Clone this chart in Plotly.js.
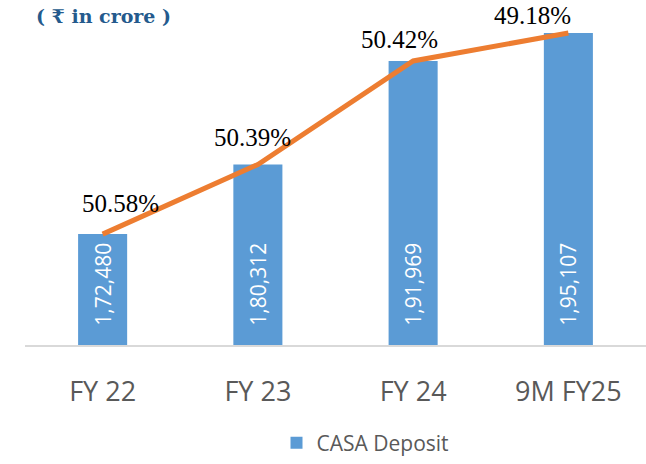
<!DOCTYPE html>
<html>
<head>
<meta charset="utf-8">
<script src="https://cdn.plot.ly/plotly-3.0.1.min.js"></script>
<style>html,body{margin:0;padding:0;background:#fff;}#chart{width:646px;height:464px;}</style>
</head>
<body>
<div id="chart"></div>
<script>
// ---- data ----
const categories = ["FY 22", "FY 23", "FY 24", "9M FY25"];
const casaDeposit = [172480, 180312, 191969, 195107];
const casaRatioLabels = ["50.58%", "50.39%", "50.42%", "49.18%"];
const seriesName = "CASA Deposit";
const titleText = "( ₹ in crore )";

// ---- styling ----
const Y_MIN = 160000, Y_MAX = 197700;
const labelShift = [[18, 31], [-5, 27], [-14, 21], [-36, 18]];

function indianFormat(n) {
  const s = String(Math.round(n));
  if (s.length <= 3) return s;
  const last3 = s.slice(-3);
  let rest = s.slice(0, -3);
  const parts = [];
  while (rest.length > 2) { parts.unshift(rest.slice(-2)); rest = rest.slice(0, -2); }
  if (rest.length) parts.unshift(rest);
  return parts.join(",") + "," + last3;
}
const pad = "\u00a0\u00a0\u00a0";

const bars = {
  type: "bar",
  name: seriesName,
  x: categories,
  y: casaDeposit.map(v => v - Y_MIN),
  base: Y_MIN,
  marker: { color: "#5B9BD5" },
  text: casaDeposit.map(v => pad + indianFormat(v)),
  textposition: "inside",
  insidetextanchor: "start",
  textangle: -90,
  textfont: { family: "Open Sans", size: 21, color: "#ffffff" },
  hoverinfo: "x+text",
  showlegend: true
};

const line = {
  type: "scatter",
  mode: "lines",
  x: categories,
  y: casaDeposit,
  line: { color: "#ED7D31", width: 5 },
  showlegend: false,
  cliponaxis: false,
  hoverinfo: "skip"
};

const annotations = categories.map((c, i) => ({
  x: c, y: casaDeposit[i], xref: "x", yref: "y",
  text: casaRatioLabels[i], showarrow: false,
  xanchor: "center", yanchor: "middle",
  xshift: labelShift[i][0], yshift: labelShift[i][1],
  font: { family: "Liberation Serif", size: 25, color: "#000000" }
}));

const layout = {
  width: 646, height: 464,
  margin: { l: 25, r: 0, t: 10, b: 116 },
  paper_bgcolor: "#ffffff", plot_bgcolor: "#ffffff",
  title: {
    text: "<b>" + titleText + "</b>",
    xref: "container", yref: "container",
    x: 36 / 646, xanchor: "left",
    y: 1 - 16 / 464, yanchor: "middle",
    font: { family: "DejaVu Serif", size: 19, color: "#245A8D" }
  },
  bargap: 0.684,
  xaxis: {
    type: "category",
    showline: true, linecolor: "#d9d9d9", linewidth: 1.5,
    showgrid: false, zeroline: false, ticks: "",
    ticklabelstandoff: 22,
    tickfont: { family: "Open Sans", size: 27, color: "#595959" },
    fixedrange: true
  },
  yaxis: {
    range: [Y_MIN, Y_MAX],
    visible: false, showgrid: false, zeroline: false, fixedrange: true
  },
  showlegend: true,
  legend: {
    orientation: "h",
    x: 0.405, xanchor: "left",
    y: -0.293, yanchor: "middle",
    font: { family: "Open Sans", size: 21, color: "#595959" },
    bgcolor: "rgba(0,0,0,0)"
  },
  annotations: annotations
};

Plotly.newPlot("chart", [bars, line], layout, { displayModeBar: false, staticPlot: true });
</script>
</body>
</html>
